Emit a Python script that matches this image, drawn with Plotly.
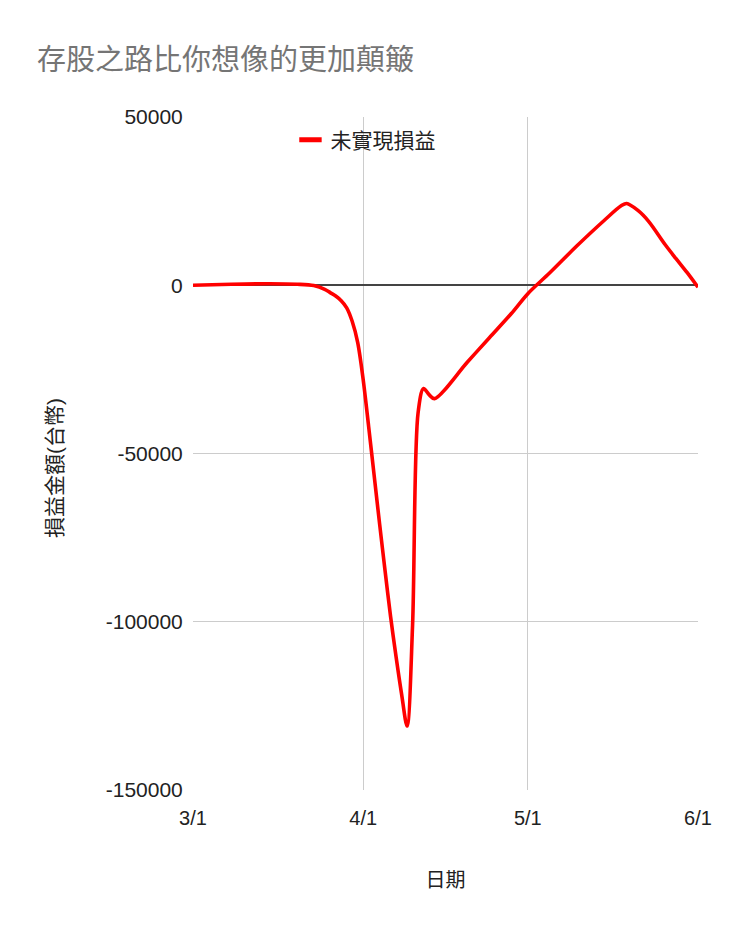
import plotly.graph_objects as go

# ---- data ----
dates = [
    "2020-03-01", "2020-03-08", "2020-03-15", "2020-03-20", "2020-03-23",
    "2020-03-25", "2020-03-26", "2020-03-27", "2020-03-28", "2020-03-29",
    "2020-03-30", "2020-03-31",
    "2020-04-01", "2020-04-02", "2020-04-03", "2020-04-04", "2020-04-05",
    "2020-04-06", "2020-04-07", "2020-04-08", "2020-04-09", "2020-04-10",
    "2020-04-11", "2020-04-12", "2020-04-13", "2020-04-14", "2020-04-20",
    "2020-04-24", "2020-04-28", "2020-05-01", "2020-05-05", "2020-05-10",
    "2020-05-15", "2020-05-18", "2020-05-19", "2020-05-21", "2020-05-23",
    "2020-05-26", "2020-05-28", "2020-05-30", "2020-06-01",
]
pnl = [
    0, 300, 450, 300, -100,
    -1200, -2200, -3200, -4600, -6700,
    -10700, -17000,
    -28000, -42000, -56500, -71000, -85000,
    -98500, -110500, -121500, -131000, -101000,
    -38000, -30700, -32500, -33700, -22800,
    -15600, -8400, -2500, 3700, 11800,
    19400, 23600, 24300, 22300, 19000,
    12100, 7900, 3800, -600,
]

series_name = "未實現損益"
title_text = "存股之路比你想像的更加顛簸"
x_title = "日期"
y_title = "損益金額(台幣)"

x_tickvals = ["2020-03-01", "2020-04-01", "2020-05-01", "2020-06-01"]
x_ticktext = ["3/1", "4/1", "5/1", "6/1"]
y_tickvals = [-150000, -100000, -50000, 0, 50000]
y_ticktext = ["-150000", "-100000", "-50000", "0", "50000"]

FONT = "Liberation Sans, Arial, Noto Sans CJK TC, sans-serif"
RED = "#ff0000"

fig = go.Figure()
fig.add_trace(go.Scatter(
    x=dates, y=pnl, mode="lines", name=series_name,
    line=dict(color=RED, width=3.6, shape="spline", smoothing=0.9),
    showlegend=False,
))
# legend entry (short thick bar)
fig.add_trace(go.Scatter(
    x=[None], y=[None], mode="markers", name=series_name,
    marker=dict(symbol="line-ew-open", size=16, color=RED,
                line=dict(color=RED, width=5)),
    showlegend=True,
))

# the page body adds an 8px offset, so figure coordinates are shifted by -8
fig.update_layout(
    width=740, height=931,
    paper_bgcolor="white", plot_bgcolor="white",
    margin=dict(l=185, r=50, t=109, b=149, autoexpand=False),
    font=dict(family=FONT, size=20, color="#222222"),
    title=dict(text=title_text, xref="container", yref="container",
               x=29 / 740, xanchor="left", y=1 - 52 / 931, yanchor="middle",
               font=dict(family=FONT, size=29, color="#757575")),
    legend=dict(orientation="h", x=0.193, xanchor="left", y=0.996, yanchor="top",
                bgcolor="rgba(0,0,0,0)", font=dict(size=21, color="#222222")),
    showlegend=True,
)

# y-axis title as a rotated annotation (sits slightly below the plot centre)
fig.add_annotation(
    text=y_title, textangle=-90, showarrow=False,
    xref="paper", yref="paper", x=-0.273, y=0.4785,
    xanchor="center", yanchor="middle",
    font=dict(family=FONT, size=21, color="#222222"),
)

fig.update_xaxes(
    type="date", range=["2020-03-01", "2020-06-01"],
    tickmode="array", tickvals=x_tickvals, ticktext=x_ticktext,
    showgrid=True, gridcolor="#cccccc", gridwidth=1,
    showline=False, zeroline=False,
    ticks="outside", ticklen=10, tickcolor="rgba(0,0,0,0)",
    tickfont=dict(size=20, color="#222222"),
    title=dict(text=x_title, standoff=44, font=dict(size=20, color="#222222")),
    automargin=False,
)
fig.update_yaxes(
    range=[-150000, 50000],
    tickmode="array", tickvals=y_tickvals, ticktext=y_ticktext,
    showgrid=True, gridcolor="#cccccc", gridwidth=1,
    showline=False, zeroline=True, zerolinecolor="#444444", zerolinewidth=1.6,
    ticks="outside", ticklen=5, tickcolor="rgba(0,0,0,0)",
    tickfont=dict(size=21, color="#222222"),
    automargin=False,
)

fig.write_html("out.html")
